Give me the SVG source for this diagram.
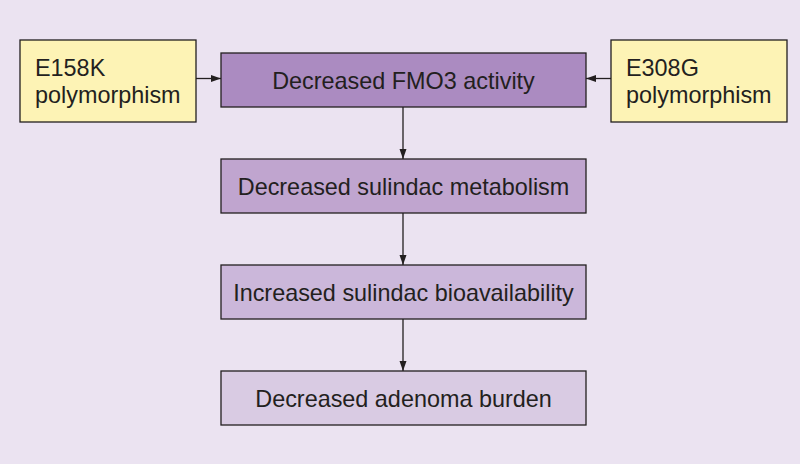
<svg xmlns="http://www.w3.org/2000/svg" width="800" height="464" viewBox="0 0 800 464">
<style>
text{font-family:"Liberation Sans",Arial,sans-serif;font-size:23.4px;fill:#231f20}
.box{stroke:#231f20;stroke-width:1.3}
.c{text-anchor:middle}
.conn line{stroke:#231f20;stroke-width:1.3}
</style>
<defs>
<marker id="ah" viewBox="0 0 10 10" refX="10" refY="5" markerWidth="10" markerHeight="10" markerUnits="userSpaceOnUse" orient="auto">
<path d="M0,1.5 L10,5 L0,8.5 Z" fill="#231f20"/>
</marker>
</defs>
<rect width="800" height="464" fill="#ebe3f1"/>
<g id="n-e158k"><rect class="box" x="20" y="40" width="176" height="82" fill="#fdf3b5"/><text x="35" y="76">E158K</text><text x="35" y="103">polymorphism</text></g>
<g id="n-e308g"><rect class="box" x="611" y="40" width="176" height="82" fill="#fdf3b5"/><text x="626" y="76">E308G</text><text x="626" y="103">polymorphism</text></g>
<g id="n-fmo3"><rect class="box" x="221" y="53" width="365" height="54" fill="#ab8bc1"/><text class="c" x="403.5" y="89">Decreased FMO3 activity</text></g>
<g id="n-metab"><rect class="box" x="221" y="159" width="365" height="54" fill="#c0a5cf"/><text class="c" x="403.5" y="195">Decreased sulindac metabolism</text></g>
<g id="n-bio"><rect class="box" x="221" y="265" width="365" height="54" fill="#cbb7da"/><text class="c" x="403.5" y="301">Increased sulindac bioavailability</text></g>
<g id="n-aden"><rect class="box" x="221" y="371" width="365" height="54" fill="#d9cbe3"/><text class="c" x="403.5" y="407">Decreased adenoma burden</text></g>
<g class="conn" id="connectors">
<line x1="196" y1="78.5" x2="221" y2="78.5" marker-end="url(#ah)"/>
<line x1="611" y1="78.5" x2="586" y2="78.5" marker-end="url(#ah)"/>
<line x1="403" y1="107" x2="403" y2="159" marker-end="url(#ah)"/>
<line x1="403" y1="213" x2="403" y2="265" marker-end="url(#ah)"/>
<line x1="403" y1="319" x2="403" y2="371" marker-end="url(#ah)"/>
</g>
</svg>
